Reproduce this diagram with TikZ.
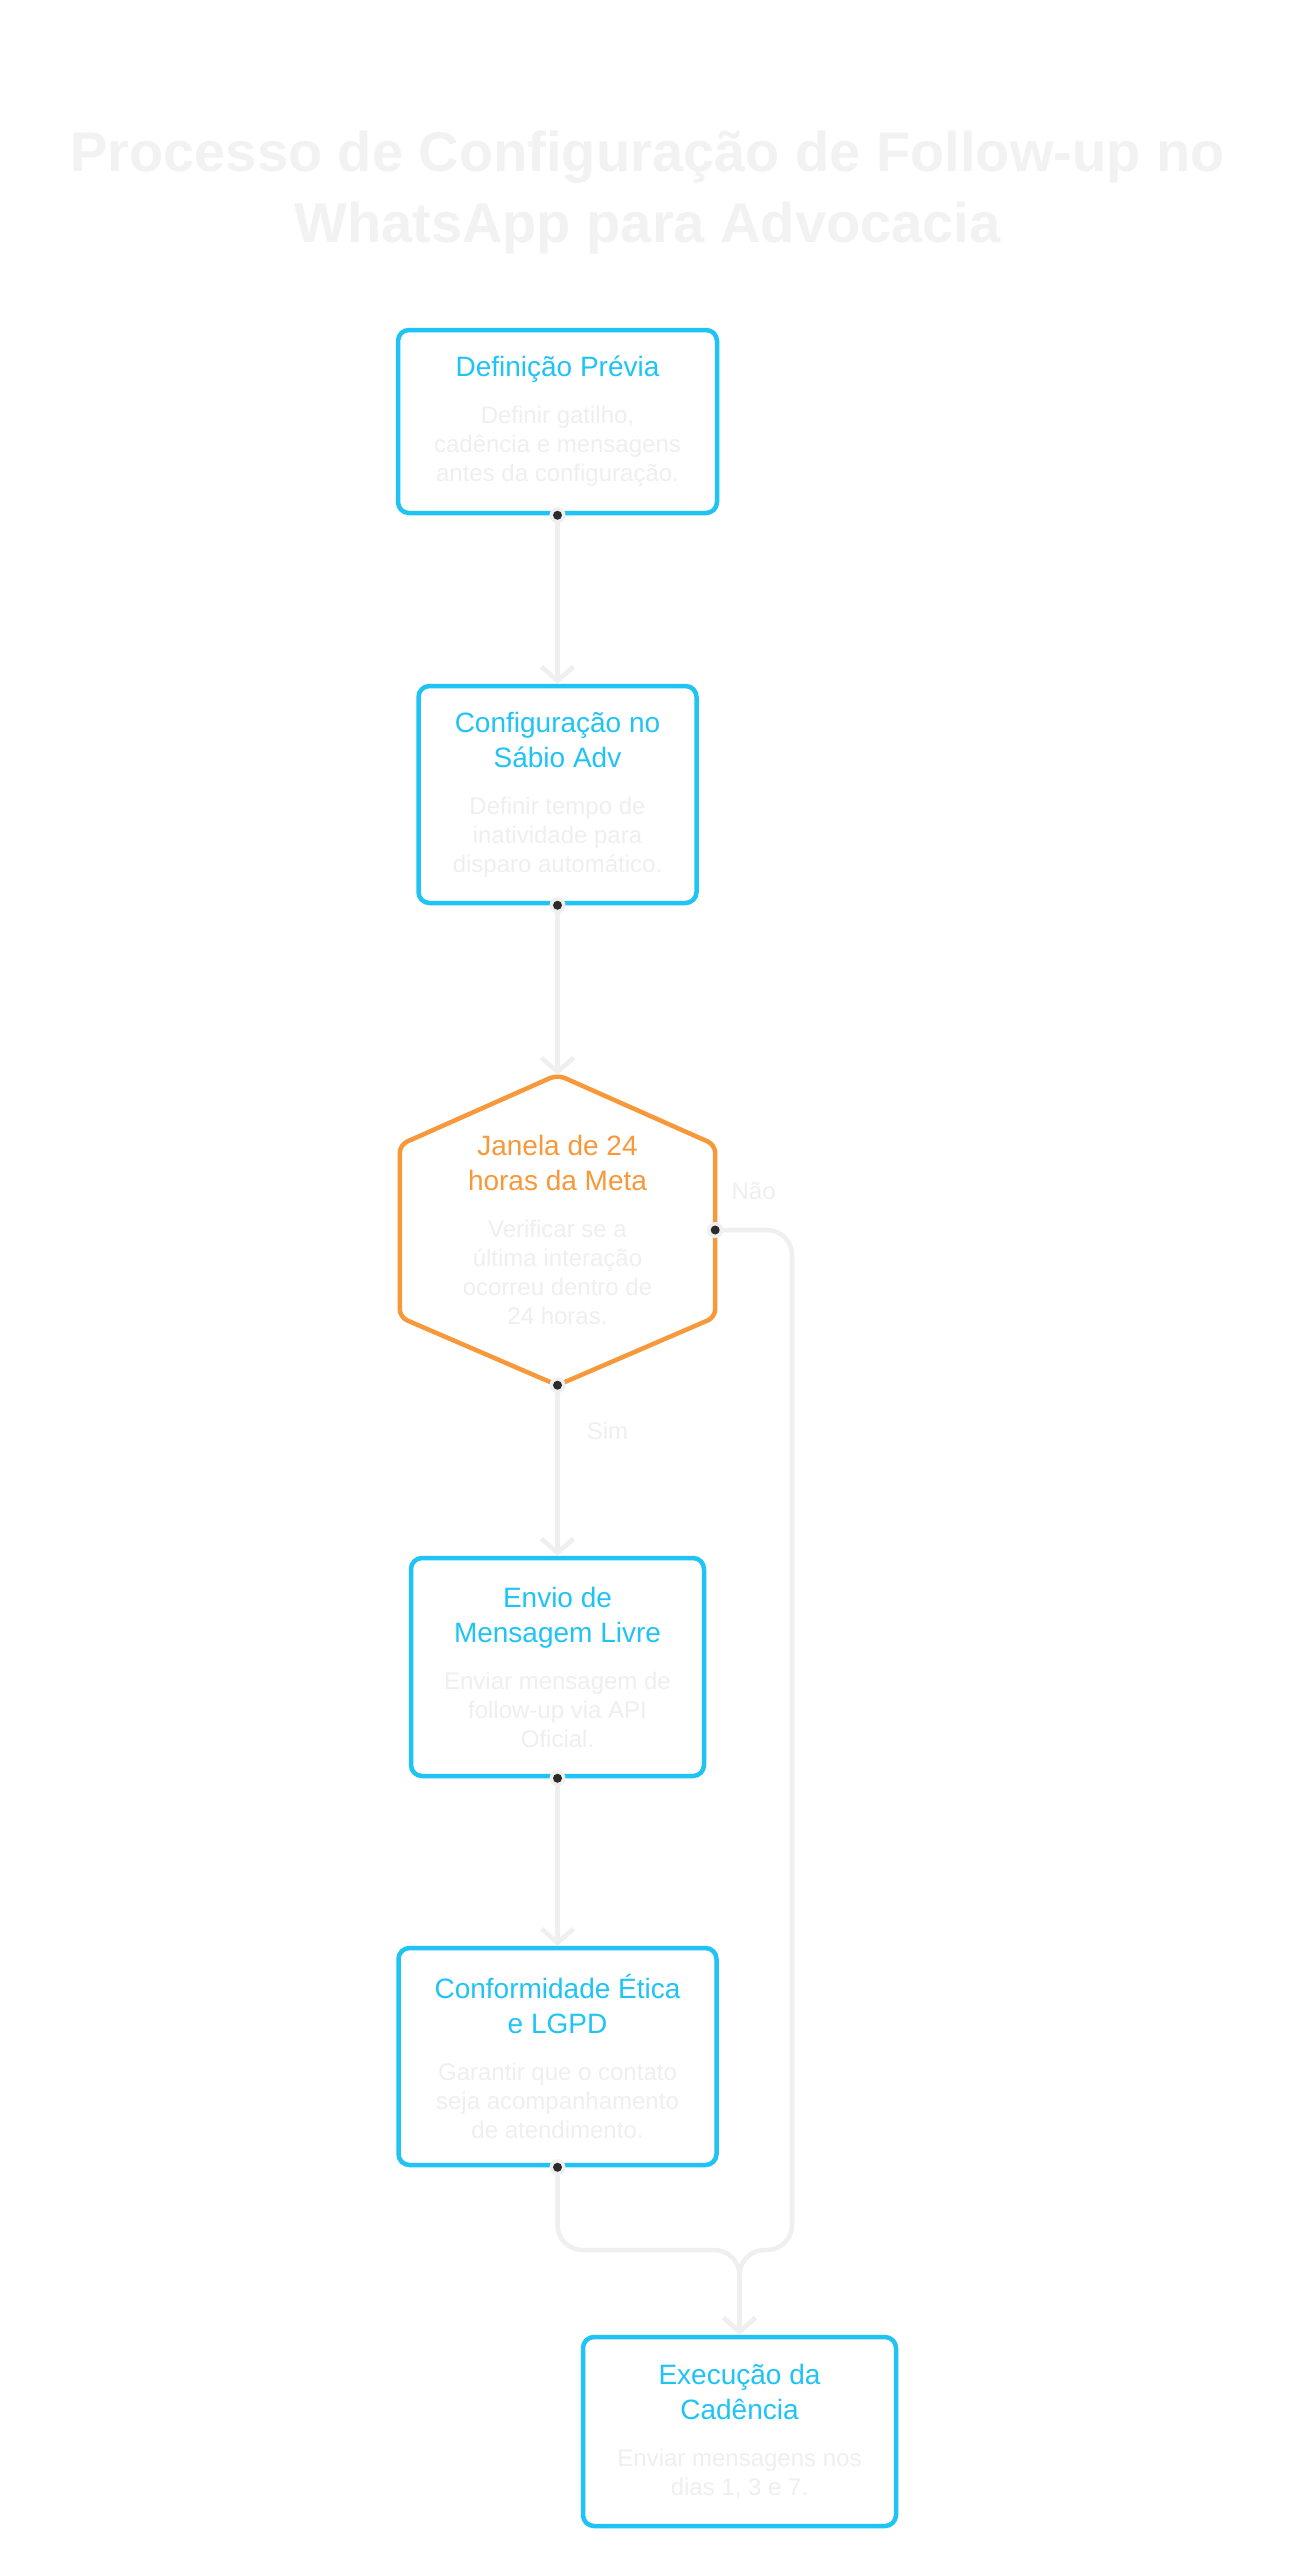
\documentclass[tikz,border=0pt]{standalone}
\usepackage{fontspec}
\setmainfont{Liberation Sans}
\usetikzlibrary{arrows.meta}
\setlength{\parindent}{0pt}

\definecolor{stepcyan}{HTML}{1FC4F5}
\definecolor{checkorange}{HTML}{F7983A}
\definecolor{faintgray}{HTML}{EFEFEF}
\definecolor{titlegray}{HTML}{F2F2F2}
\definecolor{portdark}{HTML}{2B2B2B}

% title line(s) in colour, then the faint description
\newcommand{\steptext}[3][stepcyan]{%
  \centering\spaceskip=0pt\xspaceskip=0pt
  {\leavevmode\color{#1}\fontsize{28}{35}\selectfont #2\par}%
  \vspace{18pt}%
  {\leavevmode\color{faintgray}\fontsize{24}{29}\selectfont #3\par}}

\begin{document}
\begin{tikzpicture}[x=1pt, y=-1pt,
  stepbox/.style={draw=stepcyan, line width=4.5pt, rounded corners=11pt, fill=white, text width=268pt, align=center, inner xsep=0pt, inner ysep=0pt},
  checkzone/.style={text width=268pt, align=center, inner sep=0pt, minimum width=315pt, minimum height=310pt},
  hexline/.style={draw=checkorange, line width=4.5pt, rounded corners=8pt, line join=round},
  flow/.style={draw=faintgray, line width=4.5pt, rounded corners=25pt, -{Straight Barb[length=14pt, width=32pt]}},
  lbl/.style={text=faintgray, font=\fontsize{24}{29}\selectfont, inner sep=0pt}]

\fill[white] (0,0) rectangle (1295,2560);
\useasboundingbox (0,0) rectangle (1295,2560);

% Title
\node[text=titlegray, align=center, font=\bfseries\fontsize{56}{71}\selectfont] (title) at (647.5,193) {Processo de Configuração de Follow-up no\\WhatsApp para Advocacia};

% Steps
\node[stepbox, minimum width=319pt, minimum height=183pt] (def) at (557.5,421.5) {\steptext{Definição Prévia}{Definir gatilho,\\cadência e mensagens\\antes da configuração.}};
\node[stepbox, minimum width=278pt, minimum height=217pt] (cfg) at (557.5,794.5) {\steptext{Configuração no\\Sábio Adv}{Definir tempo de\\inatividade para\\disparo automático.}};
\node[checkzone] (hex) at (557.5,1230) {\steptext[checkorange]{Janela de 24\\horas da Meta}{Verificar se a\\última interação\\ocorreu dentro de\\24 horas.}};
\node[stepbox, minimum width=293pt, minimum height=218pt] (envio) at (557.5,1667) {\steptext{Envio de\\Mensagem Livre}{Enviar mensagem de\\follow-up via API\\Oficial.}};
\node[stepbox, minimum width=318pt, minimum height=217pt] (conf) at (557.5,2056.5) {\steptext{Conformidade Ética\\e LGPD}{Garantir que o contato\\seja acompanhamento\\de atendimento.}};
\node[stepbox, minimum width=313pt, minimum height=189pt] (exe) at (739.5,2431.5) {\steptext{Execução da\\Cadência}{Enviar mensagens nos\\dias 1, 3 e 7.}};

% Hexagon outline round the check
\draw[hexline] (hex.north) -- ([yshift=-70pt]hex.north east) -- ([yshift=68pt]hex.south east) -- (hex.south) -- ([yshift=68pt]hex.south west) -- ([yshift=-70pt]hex.north west) -- cycle;

% Bends of the loop
\coordinate (bend) at (792,1230);
\coordinate (merge) at (739.5,2250);

% Connectors
\draw[flow] (def.south) -- (cfg.north);
\draw[flow] (cfg.south) -- (hex.north);
\draw[flow] (hex.south) -- node[lbl, pos=0.27, right=27pt] (sim) {Sim} (envio.north);
\draw[flow] (envio.south) -- (conf.north);
\draw[flow] (conf.south) |- (merge) -- (exe.north);
\draw[flow] (hex.east) -- node[lbl, above=28pt] (nao) {Não} (bend) |- (merge) -- (exe.north);

% Ports
\foreach \p in {def.south, cfg.south, hex.south, hex.east, envio.south, conf.south} {
  \fill[faintgray] (\p) circle (8pt);
  \fill[portdark] (\p) circle (4.5pt);
}

\end{tikzpicture}
\end{document}
